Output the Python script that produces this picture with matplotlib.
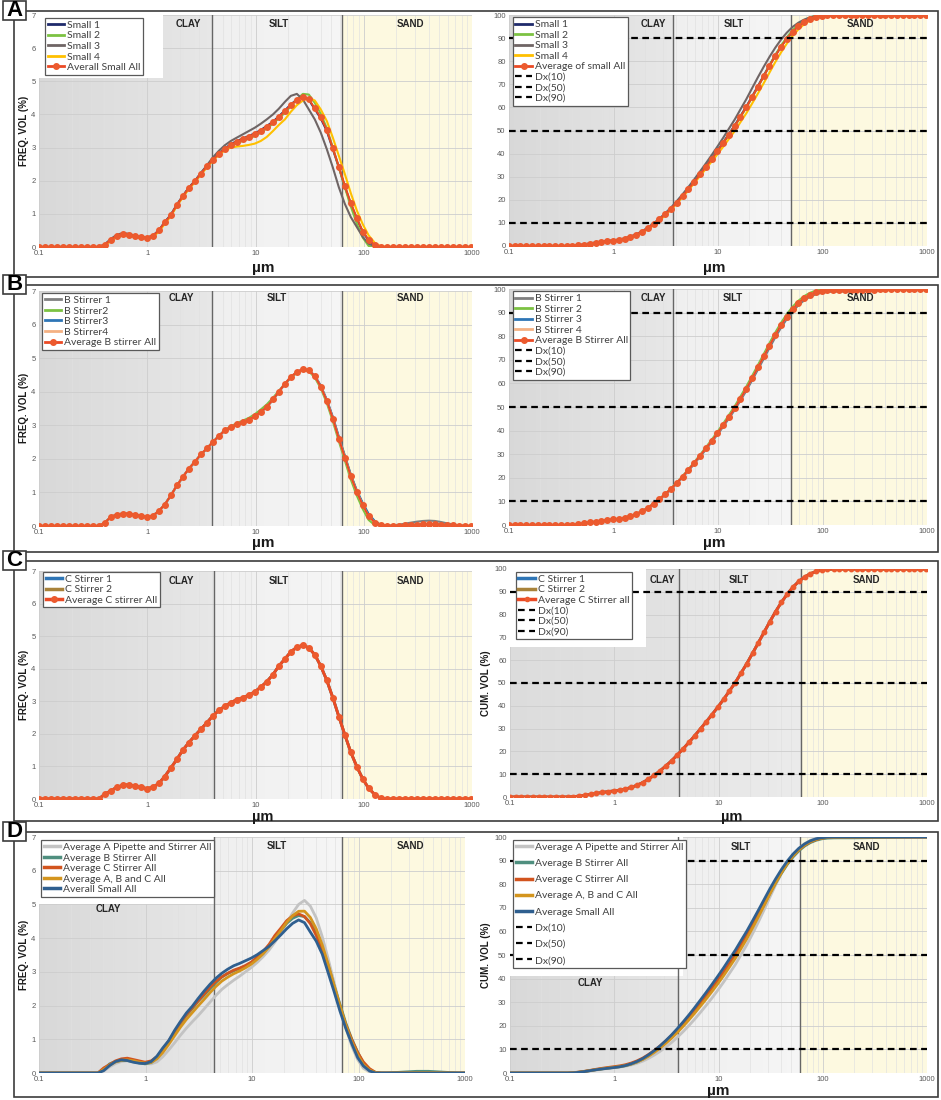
import numpy as np
import matplotlib
matplotlib.use("Agg")
import matplotlib.pyplot as plt
from matplotlib.lines import Line2D
from matplotlib.patches import Rectangle
from matplotlib.colors import to_rgb

# === DATA ===
# particle size classes in µm (laser diffraction bins, ~18 per decade)
SIZES = [0.0995, 0.113, 0.128, 0.146, 0.166, 0.188, 0.214, 0.243, 0.276, 0.314,
         0.357, 0.405, 0.460, 0.523, 0.594, 0.675, 0.767, 0.872, 0.991, 1.13,
         1.28, 1.45, 1.65, 1.88, 2.13, 2.42, 2.75, 3.12, 3.55, 4.03,
         4.58, 5.21, 5.92, 6.72, 7.64, 8.68, 9.86, 11.2, 12.7, 14.5,
         16.4, 18.7, 21.2, 24.1, 27.4, 31.1, 35.3, 40.1, 45.6, 51.8,
         58.9, 66.9, 76.0, 86.4, 98.1, 111, 127, 144, 163, 186,
         211, 240, 272, 310, 352, 400, 454, 516, 586, 666,
         756, 859, 976]

LEAD = [0.0] * 11   # nothing below ~0.36 µm
TAIL = [0.0] * 15   # nothing above ~150 µm

# frequency (vol %) per size class
SMALL_1 = LEAD + [0.07, 0.22, 0.35, 0.40, 0.38, 0.33, 0.29, 0.28, 0.34, 0.50,
                  0.75, 0.97, 1.28, 1.54, 1.79, 1.99, 2.22, 2.44, 2.64, 2.82,
                  2.97, 3.10, 3.20, 3.27, 3.35, 3.43, 3.53, 3.65, 3.78, 3.94,
                  4.12, 4.30, 4.45, 4.53, 4.44, 4.16, 3.88, 3.50, 2.95, 2.40,
                  1.82, 1.30, 0.85, 0.45, 0.20, 0.05, 0.00] + TAIL
SMALL_2 = LEAD + [0.06, 0.20, 0.32, 0.37, 0.36, 0.31, 0.28, 0.27, 0.33, 0.49,
                  0.73, 0.95, 1.26, 1.52, 1.77, 1.97, 2.20, 2.42, 2.62, 2.80,
                  2.95, 3.06, 3.14, 3.20, 3.27, 3.35, 3.45, 3.58, 3.72, 3.88,
                  4.05, 4.25, 4.45, 4.62, 4.60, 4.35, 4.02, 3.58, 3.00, 2.40,
                  1.80, 1.22, 0.70, 0.28, 0.03, 0.00, 0.00] + TAIL
SMALL_3 = LEAD + [0.08, 0.24, 0.37, 0.42, 0.40, 0.34, 0.30, 0.28, 0.34, 0.50,
                  0.74, 0.96, 1.27, 1.53, 1.78, 1.99, 2.23, 2.46, 2.70, 2.90,
                  3.07, 3.20, 3.30, 3.40, 3.50, 3.60, 3.72, 3.85, 4.00, 4.17,
                  4.38, 4.56, 4.62, 4.45, 4.15, 3.85, 3.45, 2.95, 2.40, 1.80,
                  1.30, 0.90, 0.60, 0.30, 0.10, 0.02, 0.00] + TAIL
SMALL_4 = LEAD + [0.05, 0.18, 0.30, 0.34, 0.33, 0.30, 0.27, 0.26, 0.31, 0.46,
                  0.70, 0.93, 1.24, 1.50, 1.75, 1.95, 2.18, 2.40, 2.60, 2.78,
                  2.92, 3.00, 3.03, 3.05, 3.08, 3.12, 3.20, 3.32, 3.50, 3.68,
                  3.85, 4.08, 4.28, 4.42, 4.50, 4.42, 4.15, 3.80, 3.30, 2.75,
                  2.20, 1.62, 1.10, 0.68, 0.35, 0.12, 0.02] + TAIL
AVG_SMALL = LEAD + [0.07, 0.22, 0.34, 0.39, 0.37, 0.32, 0.29, 0.28, 0.34, 0.50,
                    0.74, 0.96, 1.27, 1.53, 1.78, 1.98, 2.21, 2.43, 2.63, 2.81,
                    2.96, 3.08, 3.18, 3.25, 3.33, 3.41, 3.51, 3.63, 3.76, 3.92,
                    4.10, 4.28, 4.44, 4.54, 4.46, 4.18, 3.91, 3.53, 2.98, 2.42,
                    1.84, 1.32, 0.87, 0.46, 0.21, 0.06, 0.00] + TAIL

B_STIRRER_1 = LEAD + [0.10, 0.26, 0.33, 0.36, 0.36, 0.33, 0.29, 0.27, 0.31, 0.44,
                      0.63, 0.90, 1.20, 1.45, 1.70, 1.90, 2.12, 2.30, 2.49, 2.67,
                      2.84, 2.94, 3.02, 3.09, 3.16, 3.26, 3.39, 3.54, 3.75, 3.98,
                      4.22, 4.42, 4.58, 4.66, 4.64, 4.48, 4.18, 3.76, 3.25, 2.66,
                      2.10, 1.53, 1.05, 0.66, 0.34, 0.13, 0.03, 0.01, 0.02, 0.04,
                      0.07, 0.10, 0.13, 0.15, 0.16, 0.15, 0.12, 0.08, 0.05, 0.02,
                      0.01, 0.00]
B_STIRRER_2 = LEAD + [0.10, 0.27, 0.34, 0.37, 0.37, 0.34, 0.30, 0.27, 0.31, 0.45,
                      0.64, 0.91, 1.21, 1.46, 1.71, 1.91, 2.13, 2.31, 2.50, 2.68,
                      2.86, 2.97, 3.06, 3.14, 3.22, 3.33, 3.47, 3.62, 3.82, 4.02,
                      4.24, 4.42, 4.56, 4.64, 4.61, 4.42, 4.10, 3.66, 3.12, 2.52,
                      1.95, 1.38, 0.90, 0.50, 0.18, 0.02, 0.00, 0.00, 0.00, 0.00,
                      0.00, 0.00, 0.00, 0.00, 0.00, 0.00, 0.00, 0.00, 0.00, 0.00,
                      0.00, 0.00]
B_STIRRER_3 = LEAD + [0.10, 0.27, 0.34, 0.37, 0.37, 0.34, 0.30, 0.27, 0.31, 0.45,
                      0.64, 0.91, 1.21, 1.46, 1.71, 1.91, 2.13, 2.31, 2.50, 2.68,
                      2.85, 2.95, 3.03, 3.10, 3.17, 3.27, 3.40, 3.55, 3.77, 4.00,
                      4.24, 4.44, 4.59, 4.67, 4.64, 4.47, 4.17, 3.75, 3.24, 2.64,
                      2.08, 1.52, 1.05, 0.68, 0.36, 0.14, 0.03, 0.00, 0.00, 0.01,
                      0.02, 0.03, 0.04, 0.05, 0.05, 0.05, 0.04, 0.03, 0.02, 0.01,
                      0.00, 0.00]
B_STIRRER_4 = LEAD + [0.10, 0.27, 0.34, 0.37, 0.37, 0.34, 0.30, 0.27, 0.31, 0.45,
                      0.64, 0.91, 1.21, 1.46, 1.71, 1.91, 2.13, 2.31, 2.50, 2.68,
                      2.85, 2.95, 3.03, 3.10, 3.17, 3.27, 3.40, 3.55, 3.77, 4.00,
                      4.24, 4.44, 4.59, 4.67, 4.64, 4.46, 4.15, 3.72, 3.20, 2.60,
                      2.04, 1.48, 1.01, 0.62, 0.29, 0.10, 0.02, 0.00, 0.00, 0.01,
                      0.02, 0.03, 0.04, 0.04, 0.05, 0.04, 0.04, 0.03, 0.02, 0.01,
                      0.00, 0.00]
AVG_B = LEAD + [0.10, 0.27, 0.34, 0.37, 0.37, 0.34, 0.30, 0.27, 0.31, 0.45,
                0.64, 0.91, 1.21, 1.46, 1.71, 1.91, 2.13, 2.31, 2.50, 2.68,
                2.85, 2.95, 3.03, 3.10, 3.17, 3.27, 3.40, 3.55, 3.77, 4.00,
                4.24, 4.44, 4.59, 4.67, 4.64, 4.46, 4.15, 3.72, 3.20, 2.60,
                2.04, 1.48, 1.01, 0.62, 0.29, 0.10, 0.02, 0.00, 0.00, 0.01,
                0.02, 0.03, 0.04, 0.05, 0.05, 0.05, 0.04, 0.03, 0.02, 0.01,
                0.00, 0.00]

C_STIRRER_1 = LEAD + [0.15, 0.25, 0.36, 0.42, 0.44, 0.40, 0.36, 0.32, 0.36, 0.48,
                      0.69, 0.95, 1.22, 1.50, 1.73, 1.94, 2.14, 2.34, 2.55, 2.72,
                      2.85, 2.96, 3.05, 3.11, 3.19, 3.29, 3.44, 3.60, 3.82, 4.08,
                      4.30, 4.52, 4.66, 4.72, 4.64, 4.43, 4.08, 3.64, 3.11, 2.53,
                      1.97, 1.43, 0.99, 0.61, 0.33, 0.13, 0.02] + TAIL
C_STIRRER_2 = LEAD + [0.15, 0.25, 0.36, 0.42, 0.44, 0.40, 0.36, 0.32, 0.36, 0.48,
                      0.69, 0.95, 1.22, 1.50, 1.73, 1.94, 2.14, 2.34, 2.55, 2.72,
                      2.85, 2.96, 3.05, 3.11, 3.19, 3.29, 3.44, 3.60, 3.82, 4.08,
                      4.30, 4.52, 4.66, 4.72, 4.64, 4.43, 4.08, 3.64, 3.11, 2.53,
                      1.97, 1.43, 0.99, 0.61, 0.33, 0.13, 0.02] + TAIL
AVG_C = LEAD + [0.15, 0.25, 0.36, 0.42, 0.44, 0.40, 0.36, 0.32, 0.36, 0.48,
                0.69, 0.95, 1.22, 1.50, 1.73, 1.94, 2.14, 2.34, 2.55, 2.72,
                2.85, 2.96, 3.05, 3.11, 3.19, 3.29, 3.44, 3.60, 3.82, 4.08,
                4.30, 4.52, 4.66, 4.72, 4.64, 4.43, 4.08, 3.64, 3.11, 2.53,
                1.97, 1.43, 0.99, 0.61, 0.33, 0.13, 0.02] + TAIL

AVG_A_PIPETTE = LEAD + [0.06, 0.18, 0.28, 0.34, 0.36, 0.35, 0.31, 0.28, 0.27, 0.33,
                        0.48, 0.68, 0.90, 1.12, 1.33, 1.52, 1.70, 1.90, 2.10, 2.30,
                        2.48, 2.62, 2.75, 2.87, 3.00, 3.13, 3.28, 3.45, 3.65, 3.88,
                        4.15, 4.45, 4.75, 5.00, 5.12, 4.95, 4.60, 4.05, 3.40, 2.70,
                        2.00, 1.35, 0.80, 0.40, 0.14, 0.03, 0.00] + TAIL

DX_LEVELS = [10, 50, 90]

# === STYLE ===
W, H = 941, 1100
TXT = "#404040"
RED = "#ea4a25"
plt.rcParams["font.family"] = ["Lato", "DejaVu Sans"]

fig = plt.figure(figsize=(W / 100, H / 100), dpi=100)


def px_axes(x0, x1, y0, y1):
    return fig.add_axes([x0 / W, 1 - y1 / H, (x1 - x0) / W, (y1 - y0) / H])


def cumulative(freq):
    c = np.cumsum(freq)
    return 100 * c / c[-1]


def gradient(ax, a, b, c0, c1, n=30):
    lo, hi = np.log10(a), np.log10(b)
    c0, c1 = np.array(to_rgb(c0)), np.array(to_rgb(c1))
    for k in range(n):
        x0 = 10 ** (lo + (hi - lo) * k / n)
        x1 = 10 ** (lo + (hi - lo) * (k + 1) / n)
        ax.axvspan(x0, x1, color=c0 + (c1 - c0) * k / (n - 1), lw=0, zorder=0)


def base_axes(ax, kind, clay, silt, clay_cols=("#d8d8d8", "#e7e7e7"),
              silt_cols=("#efefef", "#f5f5f5"), white=None):
    ax.set_xscale("log")
    ax.set_xlim(0.1, 1000)
    top = 7 if kind == "freq" else 100
    ax.set_ylim(0, top)
    ax.set_yticks(range(0, 8) if kind == "freq" else range(0, 101, 10))
    ax.set_xticks([0.1, 1, 10, 100, 1000])
    ax.set_xticklabels(["0.1", "1", "10", "100", "1000"])
    ax.set_axisbelow(True)
    gradient(ax, 0.1, clay, *clay_cols)
    gradient(ax, clay, silt, *silt_cols, n=10)
    ax.axvspan(silt, 1000, color="#fdf9e0", lw=0, zorder=0)
    ax.grid(which="major", color="#cdcdcd", lw=0.6)
    ax.grid(which="minor", axis="x", color="#e0e0e0", lw=0.45)
    if white is not None:
        ax.add_patch(Rectangle((0, white[1]), white[0], 1 - white[1],
                               transform=ax.transAxes, color="white", lw=0, zorder=0.8))
    for v in (clay, silt):
        ax.axvline(v, color="#666666", lw=1.0, zorder=1)
    for s in ax.spines.values():
        s.set_visible(False)
    ax.tick_params(which="both", length=0, labelsize=5.5, labelcolor="#595959", pad=2.5)
    for lab in ax.get_xticklabels() + ax.get_yticklabels():
        lab.set_family(["Liberation Sans", "DejaVu Sans"])


def regions(ax, pos):
    tr = ax.get_xaxis_transform()
    for name, (x, y) in zip(["CLAY", "SILT", "SAND"], pos):
        ax.text(x, y, name, transform=tr, ha="center", va="center", fontsize=7,
                fontweight="bold", color="#262626", family=["Liberation Sans", "DejaVu Sans"])


def draw(ax, series, kind, ms=4, lw=1.5):
    for label, data, color, marked in series:
        y = data if kind == "freq" else cumulative(data)
        if marked:
            ax.plot(SIZES, y, color=RED, lw=lw, marker="o", ms=ms,
                    mfc="#ec5a2e", mec="#ec5a2e", zorder=3, label=label)
        else:
            ax.plot(SIZES, y, color=color, lw=lw, zorder=2.5, label=label)


def legend(ax, anchor, dx=False, fs=7.5, spacing=0.12, ms=4, lw=2):
    handles, labels = ax.get_legend_handles_labels()
    handles = [Line2D([], [], color=h.get_color(), lw=lw, marker=h.get_marker(), ms=ms,
                      mfc=h.get_mfc(), mec=h.get_mec()) for h in handles]
    if dx:
        for lv in DX_LEVELS:
            handles.append(Line2D([], [], color="black", lw=1.6, ls=(0, (3, 2))))
            labels.append(f"Dx({lv})")
    lg = ax.legend(handles, labels, loc="upper left", bbox_to_anchor=anchor,
                   borderaxespad=0, fontsize=fs, labelspacing=spacing, handlelength=1.6,
                   handletextpad=0.25, borderpad=0.25, fancybox=False, framealpha=1,
                   edgecolor="#595959", labelcolor=TXT)
    lg.get_frame().set_linewidth(0.9)
    lg.set_zorder(6)


def dx_lines(ax):
    for lv in DX_LEVELS:
        ax.axhline(lv, color="black", lw=1.6, ls=(0, (3, 2)), zorder=4)


def ylabel(text, x, y):
    fig.text(x / W, 1 - y / H, text, rotation=90, ha="center", va="center", fontsize=7,
             fontweight="bold", color="#1a1a1a", family=["Liberation Sans", "DejaVu Sans"])


def xlabel(x, y, fs=11):
    fig.text(x / W, 1 - y / H, "µm", ha="center", va="center", fontsize=fs,
             fontweight="bold", color="#1a1a1a", family=["Liberation Sans", "DejaVu Sans"])


def row_box(y0, y1, letter):
    fig.patches.append(Rectangle((14 / W, 1 - y1 / H), 924 / W, (y1 - y0) / H,
                                 transform=fig.transFigure, fill=False,
                                 edgecolor="#3c3c3c", lw=1.2, zorder=0))
    fig.patches.append(Rectangle((3 / W, 1 - (y0 + 9) / H), 23 / W, 19 / H,
                                 transform=fig.transFigure, facecolor="white",
                                 edgecolor="#3c3c3c", lw=1.2, zorder=5))
    fig.text(14.5 / W, 1 - (y0 - 0.5) / H, letter, ha="center", va="center",
             fontsize=16, fontweight="bold", color="black", zorder=6,
             family=["Liberation Sans", "DejaVu Sans"])


# === PANEL A ===
row_box(11, 277, "A")
series_a = [("Small 1", SMALL_1, "#1f2a6b", False), ("Small 2", SMALL_2, "#7cc242", False),
            ("Small 3", SMALL_3, "#6f6565", False), ("Small 4", SMALL_4, "#ffc000", False)]
ax = px_axes(39, 472, 15, 247)
base_axes(ax, "freq", 4.0, 63, white=(0.286, 0.73))
draw(ax, series_a + [("Averall Small All", AVG_SMALL, RED, True)], "freq")
regions(ax, [(2.4, 0.96), (16.4, 0.96), (270, 0.96)])
legend(ax, (0.014, 0.987))
ylabel("FREQ. VOL (%)", 24, 131)
xlabel(263, 268)

ax = px_axes(509, 927, 15, 246)
base_axes(ax, "cum", 3.7, 50.4)
draw(ax, series_a + [("Average of small All", AVG_SMALL, RED, True)], "cum")
dx_lines(ax)
regions(ax, [(2.4, 0.96), (14.2, 0.96), (232, 0.96)])
legend(ax, (0.009, 0.99), dx=True)
xlabel(714, 268)

# === PANEL B ===
row_box(285, 552, "B")
series_b = [("B Stirrer 1", B_STIRRER_1, "#808080", False), ("B Stirrer2", B_STIRRER_2, "#7cc242", False),
            ("B Stirrer3", B_STIRRER_3, "#2e75b6", False), ("B Stirrer4", B_STIRRER_4, "#f4b183", False)]
ax = px_axes(39, 472, 291, 526)
base_axes(ax, "freq", 4.0, 63)
draw(ax, series_b + [("Average B stirrer All", AVG_B, RED, True)], "freq")
regions(ax, [(2.05, 0.97), (15.8, 0.97), (270, 0.97)])
legend(ax, (0.007, 0.991))
ylabel("FREQ. VOL (%)", 24, 408)
xlabel(263, 543)

series_b_cum = [("B Stirrer 1", B_STIRRER_1, "#808080", False), ("B Stirrer 2", B_STIRRER_2, "#7cc242", False),
                ("B Stirrer 3", B_STIRRER_3, "#2e75b6", False), ("B Stirrer 4", B_STIRRER_4, "#f4b183", False)]
ax = px_axes(509, 927, 289, 525)
base_axes(ax, "cum", 3.7, 50.4)
draw(ax, series_b_cum + [("Average B Stirrer All", AVG_B, RED, True)], "cum")
dx_lines(ax)
regions(ax, [(2.4, 0.96), (14.0, 0.96), (230, 0.96)])
legend(ax, (0.009, 0.99), dx=True)
xlabel(714, 543)

# === PANEL C ===
row_box(561, 821, "C")
series_c = [("C Stirrer 1", C_STIRRER_1, "#2e75b6", False), ("C Stirrer 2", C_STIRRER_2, "#a8823a", False)]
ax = px_axes(39, 472, 571, 799)
base_axes(ax, "freq", 4.16, 63)
draw(ax, series_c + [("Average C stirrer All", AVG_C, RED, True)], "freq", lw=2)
regions(ax, [(2.05, 0.956), (16.4, 0.956), (270, 0.956)])
legend(ax, (0.009, 0.996), lw=2.5)
ylabel("FREQ. VOL (%)", 24, 685)
xlabel(263, 816.5, fs=10.5)

ax = px_axes(510, 927, 569, 797)
base_axes(ax, "cum", 4.2, 62, clay_cols=("#dcdcdc", "#e2e2e2"),
          silt_cols=("#e6e6e6", "#eaeaea"), white=(0.326, 0.66))
draw(ax, series_c + [("Average C Stirrer all", AVG_C, RED, True)], "cum", ms=3.2, lw=2)
dx_lines(ax)
regions(ax, [(2.9, 0.95), (15.8, 0.95), (265, 0.95)])
legend(ax, (0.014, 0.987), dx=True, ms=3, lw=2.5)
ylabel("CUM. VOL (%)", 486, 683)
xlabel(732, 816.5, fs=10.5)

# === PANEL D ===
row_box(832, 1097, "D")
avg_abc = np.mean([AVG_A_PIPETTE, AVG_B, AVG_C], axis=0)
series_d = [("Average A Pipette and Stirrer All", AVG_A_PIPETTE, "#c3c3c3", False),
            ("Average B Stirrer All", AVG_B, "#4f8f7f", False),
            ("Average C Stirrer All", AVG_C, "#d2541e", False),
            ("Average A, B and C All", avg_abc, "#d4951e", False)]
ax = px_axes(39, 465, 837, 1073)
base_axes(ax, "freq", 4.4, 70, white=(0.413, 0.714))
draw(ax, series_d + [("Averall Small All", AVG_SMALL, "#2f5f8f", False)], "freq", lw=2)
regions(ax, [(0.445, 0.693), (17, 0.963), (309, 0.963)])
legend(ax, (0.005, 0.987), lw=2.5)
ylabel("FREQ. VOL (%)", 24, 955)

ax = px_axes(510, 927, 837, 1073)
base_axes(ax, "cum", 4.1, 60, white=(0.415, 0.41))
draw(ax, series_d + [("Average Small All", AVG_SMALL, "#2f5f8f", False)], "cum", lw=2)
dx_lines(ax)
regions(ax, [(0.594, 0.382), (16.3, 0.958), (265, 0.958)])
legend(ax, (0.007, 0.987), dx=True, fs=7.5, spacing=0.66, lw=2.5)
ylabel("CUM. VOL (%)", 486, 955)
xlabel(718, 1091)

fig.savefig("out.png", dpi=100, facecolor="white")
